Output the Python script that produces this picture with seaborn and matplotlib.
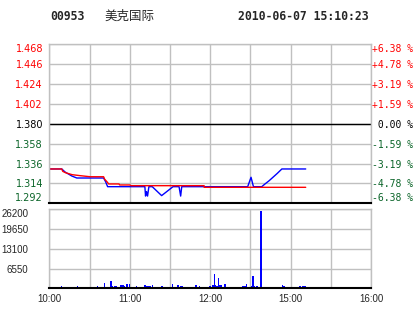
import numpy as np
import pandas as pd
import matplotlib
matplotlib.use("Agg")
import matplotlib.pyplot as plt
import seaborn as sns

# ---------------- data ----------------
stock_code = "00953"
stock_name = "美克国际"
timestamp = "2010-06-07 15:10:23"
prev_close = 1.380

# trading minutes from 10:00 (lunch break compressed: 12:30 -> 14:30)
price_t = [0, 9.3, 11.8, 14.3, 16.8, 20.5, 40.5, 42, 43.5, 71.3, 71.8, 72.5, 73.3, 74.3,
           76.8, 83.8, 92.3, 96.8, 98, 98.8, 148, 150.5, 152.3, 158.5, 161, 164, 167,
           170, 173.5, 191.3]
price_p = [1.330, 1.330, 1.3266, 1.3244, 1.3222, 1.320, 1.320, 1.3159, 1.3104, 1.3104,
           1.300, 1.305, 1.300, 1.3104, 1.3104, 1.3005, 1.3104, 1.3104, 1.300, 1.3104,
           1.3104, 1.3208, 1.3104, 1.3104, 1.3135, 1.317, 1.321, 1.325, 1.330, 1.330]

avg_t = [0, 9.3, 10, 12, 14.5, 17, 23, 30.5, 40.5, 41.3, 43, 44.3, 52, 52.5, 60, 61,
         115.5, 115.5, 191.3]
avg_p = [1.330, 1.330, 1.3274, 1.3259, 1.3248, 1.3237, 1.3226, 1.3214, 1.3214, 1.3186,
         1.3159, 1.3134, 1.3134, 1.3123, 1.3123, 1.3115, 1.3115, 1.3097, 1.3097]

vol_t = [9, 21, 36, 41, 46, 47, 49, 50, 53, 54, 55, 56, 58, 60, 65, 71, 72, 73, 74, 75,
         77, 84, 92, 96, 98, 99, 109, 110, 112, 120, 122, 123, 124, 125, 126, 127, 128,
         131, 144, 145, 146, 147, 151, 152, 153, 155, 158, 174, 175, 187, 189, 190, 191]
vol_v = [660, 660, 660, 1880, 2540, 660, 660, 660, 1100, 1000, 990, 660, 1330, 1330, 660,
         1000, 1000, 800, 800, 800, 1000, 660, 1430, 1000, 660, 660, 1000, 1000, 660, 660,
         1000, 4740, 1000, 660, 3410, 1000, 1000, 1330, 660, 660, 660, 1330, 660, 3980,
         660, 660, 25600, 1000, 660, 660, 660, 660, 660]

price_ticks = [1.468, 1.446, 1.424, 1.402, 1.380, 1.358, 1.336, 1.314, 1.292]
pct_labels = ["+6.38 %", "+4.78 %", "+3.19 %", "+1.59 %", " 0.00 %",
              "-1.59 %", "-3.19 %", "-4.78 %", "-6.38 %"]
vol_ticks = [6550, 13100, 19650, 26200]
time_ticks = [0, 30, 60, 90, 120, 150, 180, 210, 240]
time_labels = ["10:00", "", "11:00", "", "12:00", "", "15:00", "", "16:00"]

# ---------------- style ----------------
sns.set_style("white")
plt.rcParams["font.family"] = ["DejaVu Sans", "Noto Sans CJK SC"]

RED = "#ff0000"
GREEN = "#0a6428"
BLUE = "#0000ff"
GRID = "#c0c0c0"

W, H = 414, 314
fig = plt.figure(figsize=(W / 100, H / 100), dpi=100)
fig.patch.set_facecolor("white")


def rect(l, t, r, b):
    return [l / W, 1 - b / H, (r - l) / W, (b - t) / H]


ax = fig.add_axes(rect(49.3, 44.3, 371, 203.3))
axv = fig.add_axes(rect(49.3, 209.3, 371, 288.3))

# ---------------- price panel ----------------
sns.lineplot(x=price_t, y=price_p, ax=ax, color=BLUE, lw=1, estimator=None, sort=False)
sns.lineplot(x=avg_t, y=avg_p, ax=ax, color=RED, lw=1, estimator=None, sort=False)
ax.set_xlim(0, 240)
ax.set_ylim(1.292, 1.468)
ax.set_xticks(time_ticks)
ax.set_xticklabels([])
ax.set_yticks(price_ticks)
ax.set_yticklabels([f"{v:.3f}" for v in price_ticks])
ax.set_xlabel("")
ax.set_ylabel("")
ax.grid(True, color=GRID, lw=1)
ax.set_axisbelow(True)
ax.axhline(prev_close, color="black", lw=1, zorder=1.5)
ax.tick_params(axis="both", length=0)
ax.tick_params(axis="y", pad=4.5, labelsize=7)
for v, lab in zip(price_ticks, ax.get_yticklabels()):
    lab.set_color(RED if v > prev_close + 1e-9 else ("black" if abs(v - prev_close) < 1e-9 else GREEN))
labs = ax.get_yticklabels()
labs[0].set_va("top")
labs[-1].set_va("bottom")
for s in ["left", "top", "right"]:
    ax.spines[s].set_color(GRID)
    ax.spines[s].set_linewidth(1)
ax.spines["bottom"].set_color("black")
ax.spines["bottom"].set_linewidth(1.5)

axr = ax.twinx()
axr.set_ylim(1.292, 1.468)
axr.set_yticks(price_ticks)
axr.set_yticklabels(pct_labels, family="DejaVu Sans Mono", size=7)
axr.tick_params(axis="y", length=0, pad=0.5)
for v, lab in zip(price_ticks, axr.get_yticklabels()):
    lab.set_color(RED if v > prev_close + 1e-9 else ("black" if abs(v - prev_close) < 1e-9 else GREEN))
rl = axr.get_yticklabels()
rl[0].set_va("top")
rl[-1].set_va("bottom")
for s in axr.spines.values():
    s.set_visible(False)

# ---------------- volume panel ----------------
dfv = pd.DataFrame({"t": vol_t, "v": vol_v})
sns.barplot(data=dfv, x="t", y="v", native_scale=True, color=BLUE, saturation=1,
            width=1.0, errorbar=None, linewidth=0, antialiased=False, ax=axv)
axv.set_xlim(0, 240)
axv.set_ylim(0, 26200)
axv.set_yticks(vol_ticks)
axv.set_yticklabels([str(v) for v in vol_ticks])
axv.set_xticks(time_ticks)
axv.set_xticklabels(time_labels)
axv.set_xlabel("")
axv.set_ylabel("")
axv.grid(True, color=GRID, lw=1)
axv.set_axisbelow(True)
axv.tick_params(axis="both", length=0, labelsize=7)
axv.tick_params(axis="y", pad=15)
axv.tick_params(axis="x", pad=4)
for lab in axv.get_yticklabels() + axv.get_xticklabels():
    lab.set_family("Liberation Sans")
axv.get_yticklabels()[-1].set_va("top")
for s in ["left", "top", "right"]:
    axv.spines[s].set_color(GRID)
    axv.spines[s].set_linewidth(1)
axv.spines["bottom"].set_color("black")
axv.spines["bottom"].set_linewidth(1.5)

# ---------------- header ----------------
fig.text(50 / W, 1 - 17 / H, stock_code, family="DejaVu Sans Mono", weight="bold",
         size=8.3, va="center", ha="left")
fig.text(104 / W, 1 - 16 / H, stock_name, family=["Noto Sans CJK SC", "DejaVu Sans"],
         size=9, va="center", ha="left")
fig.text(238 / W, 1 - 17 / H, timestamp, family="DejaVu Sans Mono", weight="bold",
         size=8.3, va="center", ha="left")

fig.savefig("out.png", dpi=100)
